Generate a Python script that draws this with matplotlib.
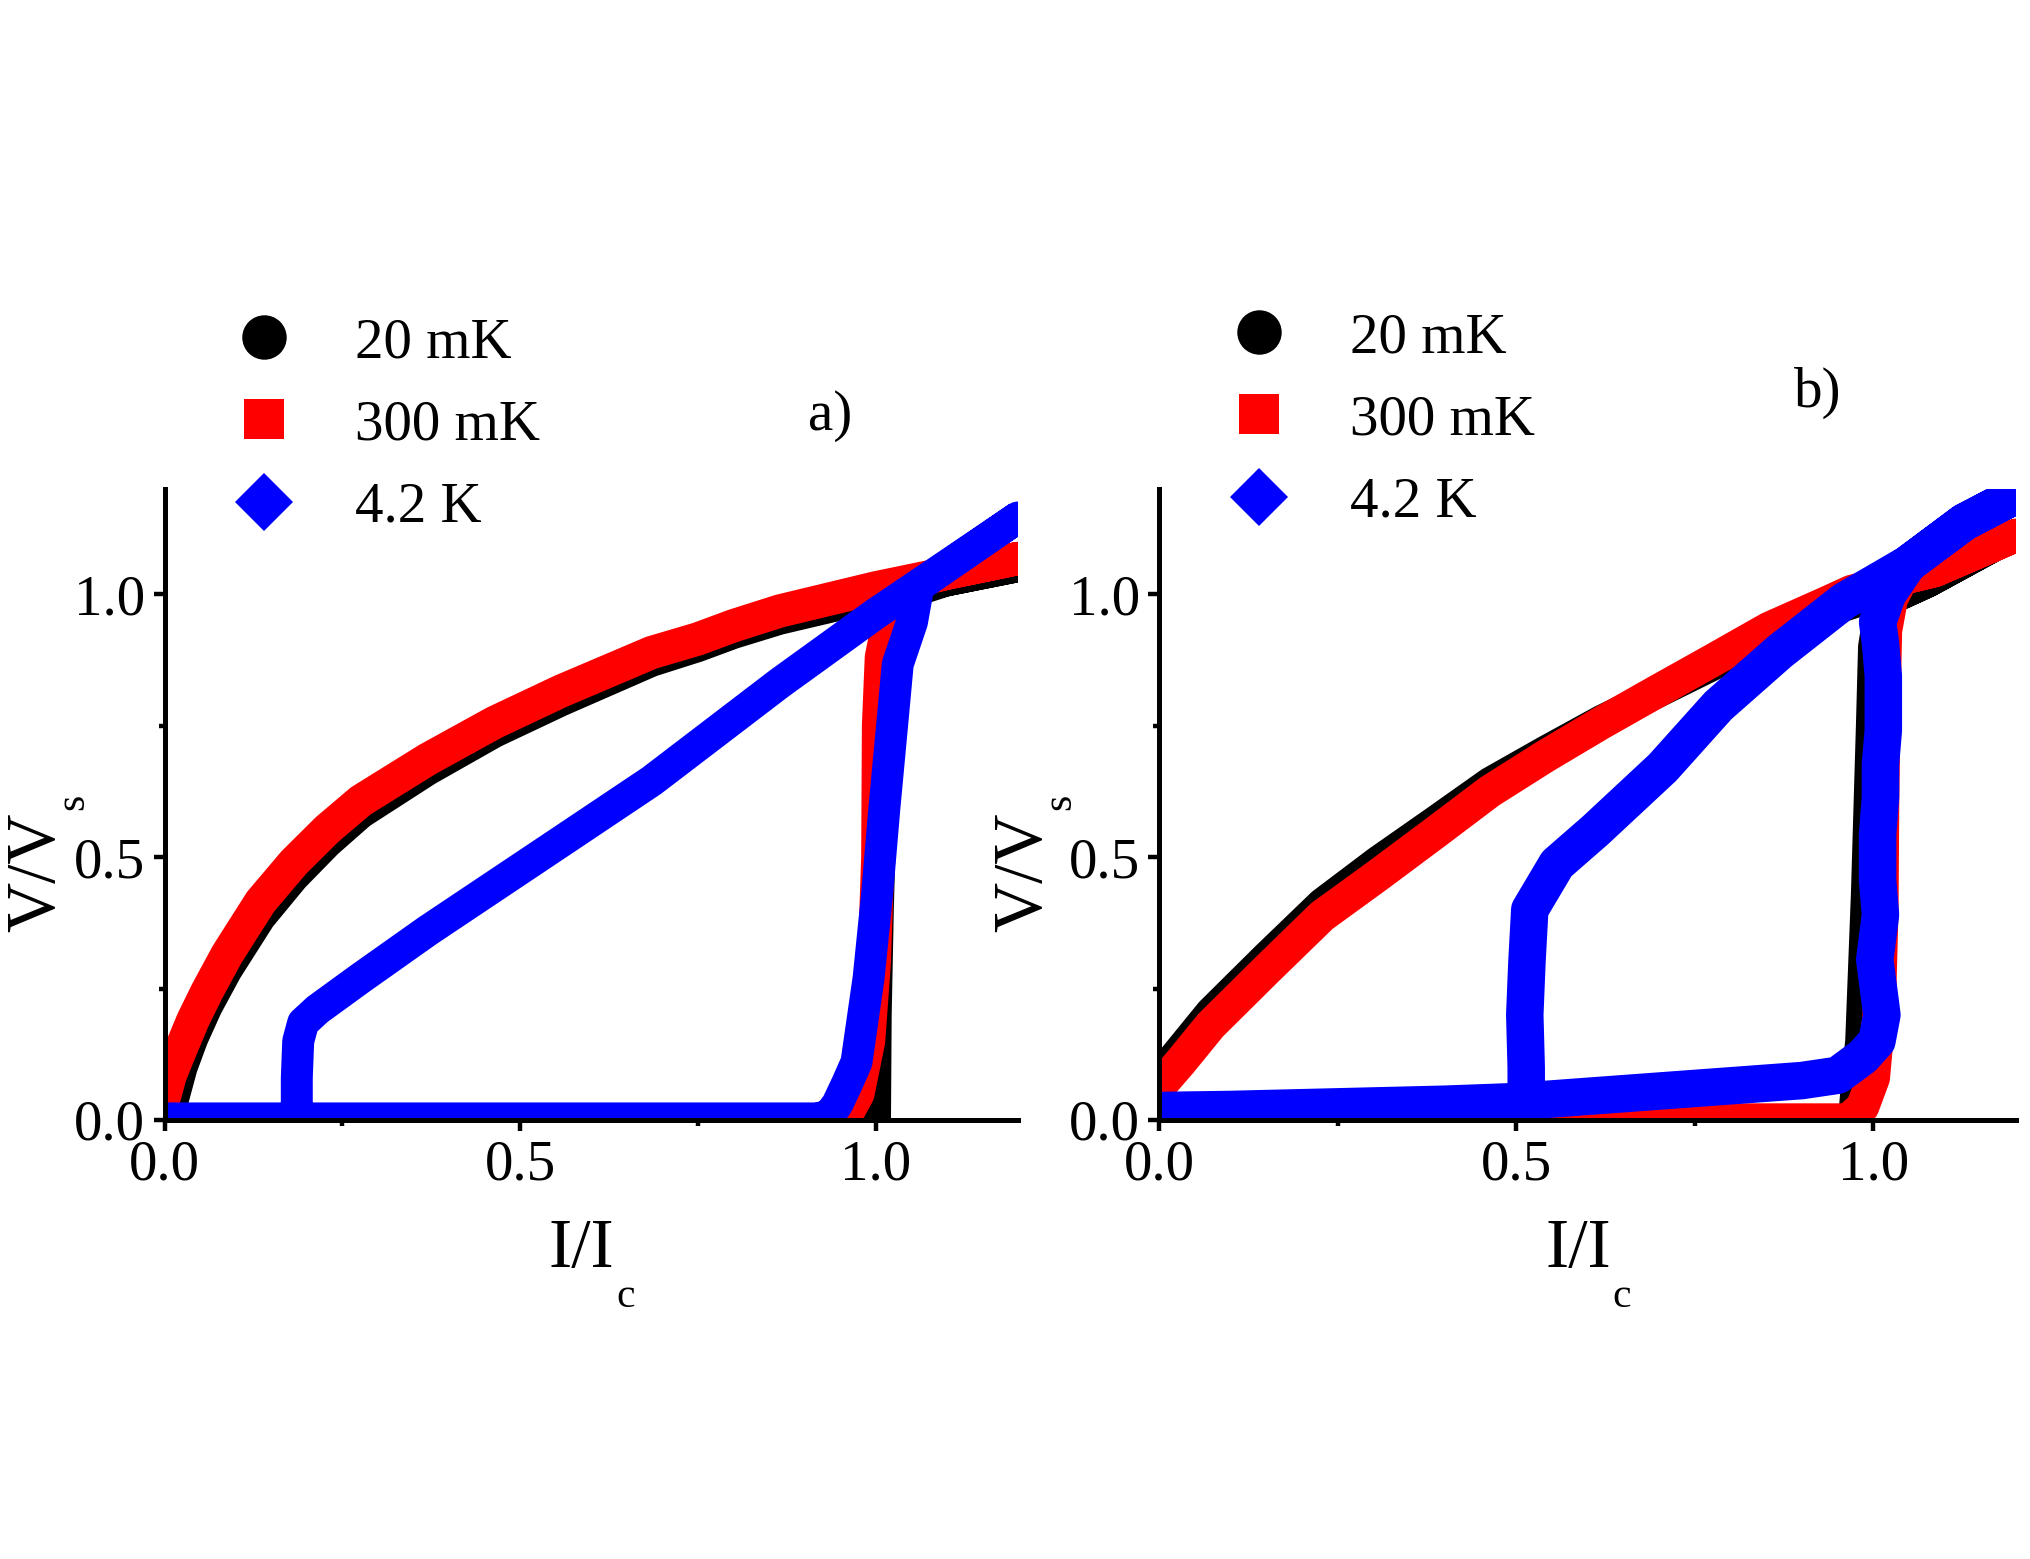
import matplotlib
matplotlib.use('Agg')
import matplotlib.pyplot as plt
from matplotlib.lines import Line2D

plt.rcParams['font.family'] = ['Liberation Serif', 'DejaVu Serif']

# ---- panel a) : V/Vs vs I/Ic, points in sweep order (up, jump, back down)
a_20mk_x = [0.0, 0.5, 1.0, 1.001, 1.004, 1.008, 1.01, 1.012, 1.02, 1.1, 1.2,
            1.1, 1.0, 0.865, 0.8, 0.75, 0.685, 0.558, 0.464, 0.37, 0.276, 0.229,
            0.182, 0.135, 0.088, 0.06, 0.04, 0.025, 0.013, 0.008]
a_20mk_y = [0.0, 0.0, 0.0, 0.2, 0.4, 0.6, 0.8, 0.92, 0.99, 1.025, 1.052,
            1.025, 0.995, 0.952, 0.925, 0.9, 0.872, 0.797, 0.737, 0.665, 0.583, 0.527,
            0.462, 0.385, 0.285, 0.215, 0.155, 0.1, 0.04, 0.0]

a_300mk_x = [0.0, 0.5, 0.955, 0.975, 0.99, 0.998, 1.003, 1.004, 1.008, 1.02, 1.04,
             1.1, 1.2, 1.1, 1.0, 0.865, 0.8, 0.75, 0.685, 0.558, 0.464, 0.37, 0.276,
             0.229, 0.182, 0.135, 0.088, 0.06, 0.04, 0.02, 0.008, 0.0]
a_300mk_y = [0.0, 0.0, 0.0, 0.05, 0.15, 0.3, 0.5, 0.75, 0.88, 0.96, 1.02,
             1.04, 1.068, 1.04, 1.012, 0.968, 0.94, 0.915, 0.889, 0.816, 0.756, 0.686, 0.607,
             0.553, 0.49, 0.415, 0.315, 0.245, 0.19, 0.125, 0.085, 0.045]

a_4k2_x = [0.0, 0.5, 0.92, 0.935, 0.946, 0.96, 0.973, 0.99, 1.002, 1.012, 1.023,
           1.031, 1.051, 1.06, 1.2, 1.0, 0.865, 0.685, 0.558, 0.464, 0.37, 0.276,
           0.215, 0.195, 0.188, 0.186, 0.186]
a_4k2_y = [0.003, 0.003, 0.003, 0.01, 0.03, 0.07, 0.11, 0.27, 0.43, 0.59, 0.75,
           0.867, 0.947, 1.015, 1.146, 0.963, 0.831, 0.645, 0.53, 0.445, 0.36, 0.27,
           0.21, 0.185, 0.15, 0.08, 0.003]

# ---- panel b)
b_20mk_x = [0.0, 0.5, 0.972, 0.976, 0.982, 0.99, 0.997, 1.0, 1.008, 1.02, 1.04,
            1.077, 1.2, 1.077, 1.04, 1.0, 0.932, 0.854, 0.776, 0.697, 0.619, 0.541,
            0.463, 0.385, 0.306, 0.228, 0.15, 0.072, 0.03, 0.0]
b_20mk_y = [0.0, 0.0, 0.0, 0.07, 0.15, 0.43, 0.75, 0.9, 0.97, 1.0, 1.0,
            1.023, 1.114, 1.023, 1.0, 0.995, 0.965, 0.922, 0.865, 0.812, 0.76, 0.702,
            0.642, 0.567, 0.492, 0.412, 0.31, 0.205, 0.135, 0.085]

b_300mk_x = [0.0, 0.5, 0.965, 0.985, 1.0, 1.008, 1.012, 1.013, 1.015, 1.017, 1.025,
             1.04, 1.086, 1.2, 1.086, 1.04, 0.969, 0.932, 0.854, 0.776, 0.697, 0.619,
             0.541, 0.463, 0.385, 0.306, 0.228, 0.15, 0.072, 0.03, 0.0]
b_300mk_y = [0.0, 0.0, 0.0, 0.025, 0.08, 0.2, 0.4, 0.6, 0.8, 0.93, 0.99,
             1.03, 1.045, 1.112, 1.045, 1.03, 1.005, 0.982, 0.935, 0.875, 0.815, 0.755,
             0.692, 0.625, 0.545, 0.465, 0.388, 0.285, 0.18, 0.11, 0.063]

b_4k2_x = [0.0, 0.1, 0.25, 0.4, 0.5, 0.6, 0.7, 0.8, 0.9, 0.95, 0.985, 1.005, 1.012,
           1.002, 1.01, 1.006, 1.006, 1.01, 1.01, 1.014, 1.014, 1.01, 1.006, 1.02,
           1.049, 1.127, 1.206, 1.127, 1.049, 0.959, 0.869, 0.783, 0.705, 0.611,
           0.557, 0.519, 0.515, 0.512, 0.514, 0.514]
b_4k2_y = [0.018, 0.02, 0.025, 0.03, 0.035, 0.045, 0.055, 0.065, 0.075, 0.085, 0.12, 0.15, 0.2,
           0.305, 0.39, 0.456, 0.543, 0.614, 0.677, 0.741, 0.844, 0.907, 0.947, 1.0,
           1.058, 1.137, 1.193, 1.137, 1.058, 0.987, 0.891, 0.788, 0.67, 0.551,
           0.487, 0.4, 0.3, 0.2, 0.1, 0.04]

labels = ['20 mK', '300 mK', '4.2 K']
ticks = [0.0, 0.5, 1.0]
tick_labels = ['0.0', '0.5', '1.0']

FS_TICK = 41
FS_LAB = 50
FS_SUB = 30

fig = plt.figure(figsize=(20.31, 15.59), dpi=100)
ax_a = fig.add_axes([0.081, 0.2816, 0.4202, 0.4047])
ax_b = fig.add_axes([0.5707, 0.2816, 0.422, 0.4047])

line_kw = dict(solid_joinstyle='round', solid_capstyle='round')


def setup(ax, panel, leg_xy, lab_xy, ylab_x):
    ax.set_xlim(0, 1.2)
    ax.set_ylim(0, 1.2)
    for s in ['top', 'right']:
        ax.spines[s].set_visible(False)
    for s in ['left', 'bottom']:
        ax.spines[s].set_linewidth(3.6)
    ax.set_xticks(ticks)
    ax.set_xticklabels(tick_labels)
    ax.set_yticks(ticks)
    ax.set_yticklabels(tick_labels)
    ax.set_xticks([0.25, 0.75], minor=True)
    ax.set_yticks([0.25, 0.75], minor=True)
    ax.tick_params(which='major', direction='out', length=8, width=3.2,
                   labelsize=FS_TICK, pad=6)
    ax.tick_params(which='minor', direction='out', length=4, width=3.2)

    ax.set_xlabel('I/I', fontsize=FS_LAB)
    ax.xaxis.set_label_coords(0.489, -0.156)
    ax.annotate('c', xy=(1, 0), xycoords=ax.xaxis.label, xytext=(1, -18),
                textcoords='offset points', ha='left', va='baseline', fontsize=FS_SUB)
    ax.set_ylabel('V/V', fontsize=FS_LAB)
    ax.yaxis.set_label_coords(ylab_x, 0.393)
    ax.annotate('s', xy=(1, 1), xycoords=ax.yaxis.label, xytext=(10, 1.5),
                textcoords='offset points', rotation=90, rotation_mode='anchor',
                ha='left', va='baseline', fontsize=FS_SUB)

    handles = [Line2D([], [], ls='none', marker='o', ms=32, mew=0, color='black'),
               Line2D([], [], ls='none', marker='s', ms=29, mew=0, color='red'),
               Line2D([], [], ls='none', marker='D', ms=29.5, mew=0, color='blue')]
    ax.legend(handles, labels, loc='center left', bbox_to_anchor=leg_xy,
              frameon=False, fontsize=FS_TICK, handlelength=1.0, handletextpad=1.1,
              labelspacing=0.53, borderpad=0, borderaxespad=0, numpoints=1)
    ax.text(lab_xy[0], lab_xy[1], panel, transform=ax.transAxes,
            ha='center', va='center', fontsize=FS_TICK)


ax_a.plot(a_20mk_x, a_20mk_y, color='black', lw=22, **line_kw)
ax_a.plot(a_300mk_x, a_300mk_y, color='red', lw=24, **line_kw)
ax_a.plot(a_4k2_x, a_4k2_y, color='blue', lw=23, **line_kw)
setup(ax_a, 'a)', (0.083, 1.101), (0.78, 1.116), -0.112)

ax_b.plot(b_20mk_x, b_20mk_y, color='black', lw=22, **line_kw)
ax_b.plot(b_300mk_x, b_300mk_y, color='red', lw=24, **line_kw)
ax_b.plot(b_4k2_x, b_4k2_y, color='blue', lw=27, **line_kw)
setup(ax_b, 'b)', (0.083, 1.109), (0.768, 1.152), -0.120)

fig.savefig('out.png', dpi=100)
